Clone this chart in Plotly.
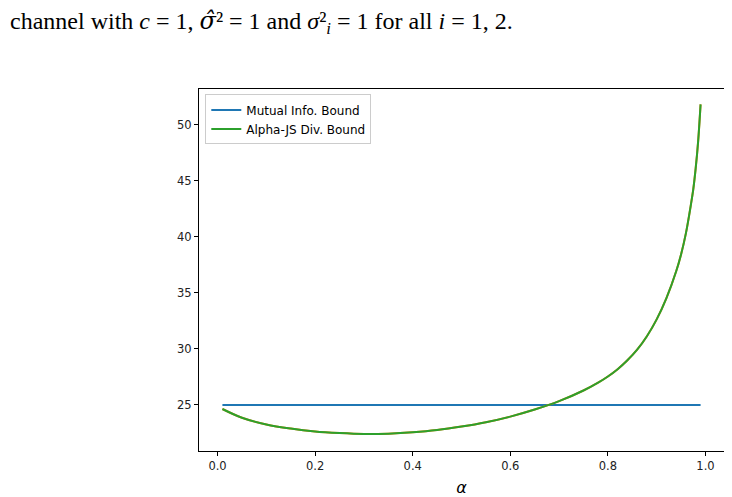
import plotly.graph_objects as go

# values
alpha = [0.01, 0.05, 0.10, 0.15, 0.20, 0.25, 0.30, 0.35, 0.40, 0.45, 0.50, 0.55,
         0.60, 0.65, 0.70, 0.75, 0.78, 0.80, 0.82, 0.84, 0.86, 0.88, 0.90, 0.92,
         0.94, 0.95, 0.96, 0.97, 0.975, 0.98, 0.985, 0.99]
alpha_js_bound = [24.6, 23.82, 23.22, 22.85, 22.59, 22.45, 22.37, 22.40, 22.52, 22.72,
                  23.03, 23.42, 23.92, 24.55, 25.3, 26.25, 26.95, 27.5, 28.15, 28.95,
                  29.9, 31.1, 32.6, 34.5, 36.9, 38.4, 40.3, 42.8, 44.2, 46.1, 48.5, 51.8]
mi_alpha = [0.01, 0.99]
mutual_info_bound = [24.96, 24.96]

x_ticks = [0.0, 0.2, 0.4, 0.6, 0.8, 1.0]
y_ticks = [25, 30, 35, 40, 45, 50]

fig = go.Figure()
fig.add_trace(go.Scatter(x=mi_alpha, y=mutual_info_bound, mode='lines', name='Mutual Info. Bound',
                         line=dict(color='#1f77b4', width=2)))
# orange line drawn underneath the green one (same curve, no legend entry)
fig.add_trace(go.Scatter(x=alpha, y=alpha_js_bound, mode='lines', showlegend=False,
                         line=dict(color='#ff7f0e', width=2, shape='spline')))
fig.add_trace(go.Scatter(x=alpha, y=alpha_js_bound, mode='lines', name='Alpha-JS Div. Bound',
                         line=dict(color='#2ca02c', width=2, shape='spline')))

axis_style = dict(showgrid=False, zeroline=False, showline=True, linecolor='black', linewidth=1,
                  mirror=True, ticks='outside', ticklen=4, tickcolor='black', automargin=False,
                  tickfont=dict(family='DejaVu Sans', size=11.5, color='#222'))

fig.update_xaxes(range=[-0.038, 1.038], tickvals=x_ticks, tickformat='.1f',
                 title=dict(text='<i>α</i>', font=dict(family='DejaVu Sans', size=16, color='black'),
                            standoff=10),
                 **axis_style)
fig.update_yaxes(range=[20.85, 53.17], tickvals=y_ticks, **axis_style)

# sentence from the surrounding paper text, above the chart
# (unicode superscripts so nothing rises above the top edge)
fig.add_annotation(xref='paper', yref='paper', x=-0.3638, y=1.184, xanchor='left', yanchor='middle',
                   showarrow=False,
                   text='channel with <i>c</i> = 1, '
                        '<span style="font-family:DejaVu Serif"><i>σ̂</i></span>² = 1 and '
                        '<i>σ</i>²<sub><i>i</i></sub> = 1 for all <i>i</i> = 1, 2.',
                   font=dict(family='Liberation Serif', size=24, color='black'))

# the page body adds an 8px margin, so the figure is offset to compensate
fig.update_layout(
    width=716, height=489,
    margin=dict(l=191, r=0, t=81, b=46),
    paper_bgcolor='white', plot_bgcolor='white',
    legend=dict(x=0.012, y=0.985, xanchor='left', yanchor='top', bgcolor='white',
                bordercolor='#cccccc', borderwidth=1,
                font=dict(family='DejaVu Sans', size=12, color='black'),
                tracegroupgap=0, itemwidth=30),
)

fig.write_html("out.html")
